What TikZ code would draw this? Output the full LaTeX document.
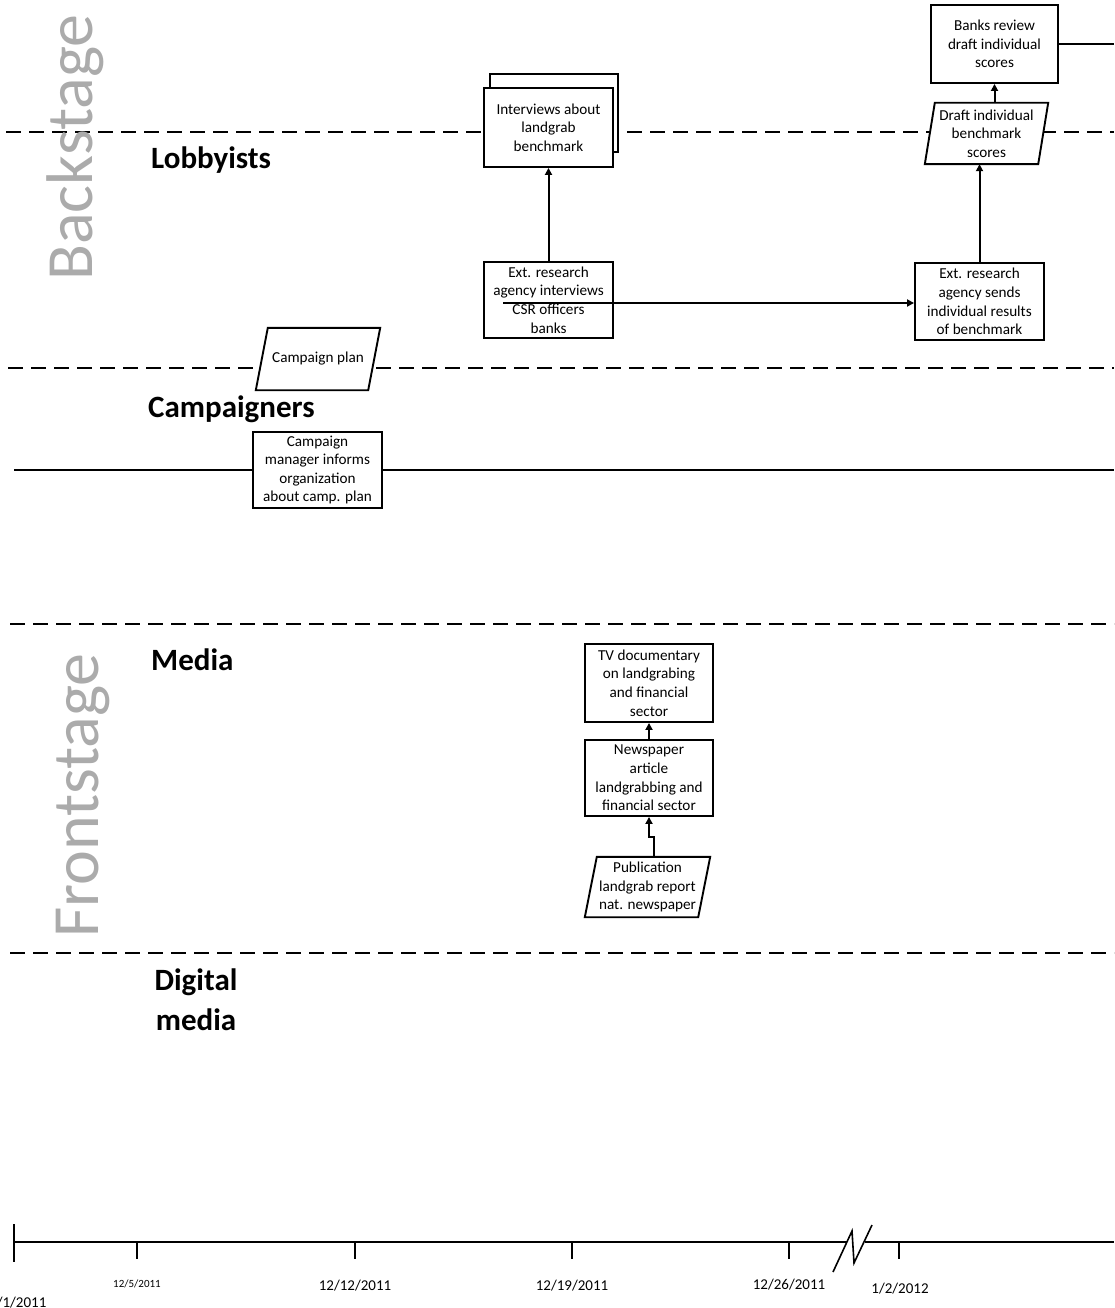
\documentclass[tikz,border=0pt]{standalone}
\usepackage{fontspec}
\setmainfont{Carlito}
\usetikzlibrary{arrows.meta,calc}

\pgfdeclarelayer{lanes}
\pgfdeclarelayer{shapes}
\pgfsetlayers{lanes,shapes,main}

\newcommand\boxfont{\fontsize{15.2}{18.6}\selectfont}
\newcommand\lanefont{\fontsize{31}{40}\selectfont\bfseries}
\newcommand\stagefont{\fontsize{66}{70}\selectfont}
\newcommand\datefont{\fontsize{15}{18}\selectfont}
\newcommand\smalldatefont{\fontsize{11}{13}\selectfont}

\tikzset{
  box/.style={draw, line width=1.9pt, fill=white, minimum width=128, minimum height=77,
    inner sep=0.5pt, align=center, font=\boxfont},
  slanted/.style={inner sep=0.5pt, align=center, font=\boxfont},
  flow/.style={line width=2pt, -{Triangle[length=7pt,width=7pt]}},
  plainline/.style={line width=2pt},
  lane/.style={line width=1.9pt, dash pattern=on 15pt off 8pt},
  lanelabel/.style={font=\lanefont, anchor=base west, inner sep=0},
  stagelabel/.style={font=\stagefont, text=black!33, rotate=90, anchor=base west, inner sep=0},
  tick/.style={line width=2pt},
  datelabel/.style={font=\datefont, anchor=base, inner sep=0}
}

% outline of a data (parallelogram) node: node name, half of the slant
\newcommand\slantoutline[2]{%
  \begin{pgfonlayer}{shapes}
    \draw[line width=1.9pt, fill=white]
      ($(#1.north west)+(#2,0)$) -- ($(#1.north east)+(#2,0)$) --
      ($(#1.south east)-(#2,0)$) -- ($(#1.south west)-(#2,0)$) -- cycle;
  \end{pgfonlayer}}

\begin{document}
\begin{tikzpicture}[x=1pt, y=-1pt]
\useasboundingbox (0,0) rectangle (1114,1308);

% swimlane separators
\begin{pgfonlayer}{lanes}
  \draw[lane] (6,132) -- (1114,132);
  \draw[lane] (8,368) -- (1114,368);
  \draw[lane] (10,624) -- (1114,624);
  \draw[lane] (10,953) -- (1114,953);
\end{pgfonlayer}

% stage labels
\node[stagelabel] (back) at (92,281) {Backstage};
\node[stagelabel] (front) at (98,938) {Frontstage};

% lane labels
\node[lanelabel] (lobby) at (151,168) {Lobbyists};
\node[lanelabel] (camp) at (148,417) {Campaigners};
\node[lanelabel] (media) at (151,670) {Media};
\node[font=\lanefont, align=center, anchor=base, inner sep=0] (digital) at (196,1030) {Digital\\media};

% Lobbyists
\node[box, minimum width=128, minimum height=78] (intvback) at (554,113) {};
\node[box, minimum width=129, minimum height=79] (intv) at (548.5,127.5) {Interviews about\\landgrab\\benchmark};
\node[box, minimum width=129, minimum height=76] (ext1) at (548.5,300) {Ext. research\\agency interviews\\CSR officers\\banks};
\node[box, minimum width=129, minimum height=77] (ext2) at (979.5,301.5) {Ext. research\\agency sends\\individual results\\of benchmark};
\node[slanted, minimum width=113, minimum height=61] (draft) at (986.5,133.5) {Draft individual\\benchmark\\scores};
\slantoutline{draft}{5}
\node[box, minimum width=127, minimum height=78] (banks) at (994.5,44) {Banks review\\draft individual\\scores};

% Campaigners
\node[slanted, minimum width=112, minimum height=62] (plan) at (318,359) {Campaign plan};
\slantoutline{plan}{6}
\node[box, minimum width=129, minimum height=76] (mgr) at (317.5,470) {Campaign\\manager informs\\organization\\about camp. plan};

% Media
\node[box, minimum width=128, minimum height=78] (tv) at (649,683) {TV documentary\\on landgrabing\\and financial\\sector};
\node[box, minimum width=128, minimum height=76] (news) at (649,778) {Newspaper\\article\\landgrabbing and\\financial sector};
\node[slanted, minimum width=113, minimum height=60] (pub) at (647.5,887) {Publication\\landgrab report\\nat. newspaper};
\slantoutline{pub}{6}

% connectors
\coordinate (hstart) at (503,303);
\coordinate (bankout) at (1114,44);
\coordinate (laneL) at (14,470);
\coordinate (laneR) at (1114,470);
\draw[flow] (ext1.north) -- (intv.south);
\draw[flow] (hstart) -- (hstart -| ext2.west);
\draw[flow] (ext2.north) -- (ext2.north |- draft.south);
\draw[flow] (draft.north -| banks.south) -- (banks.south);
\draw[plainline] (banks.east) -- (bankout);
\draw[plainline] (laneL) -- (mgr.west);
\draw[plainline] (mgr.east) -- (laneR);
\draw[flow] (news.north) -- (tv.south);
\draw[flow] ($(pub.north)+(6,0)$) -- ++(0,-20) -| (news.south);

% time axis
\coordinate (t0) at (14,1242);
\coordinate (tb1) at (847,1242);
\coordinate (tb2) at (865,1242);
\coordinate (tend) at (1114,1242);
\draw[tick] (t0) -- (tb1);
\draw[tick] (tb2) -- (tend);
\draw[tick] (14,1224) -- (14,1262);
\foreach \x in {137,355,572,789,899} \draw[tick] (\x,1242) -- (\x,1259);
\draw[line width=1.6pt] (833,1272) -- (852,1231) -- (854,1263) -- (872,1225);

\node[datelabel] (d1) at (14,1307) {12/1/2011};
\node[datelabel, font=\smalldatefont] (d5) at (137,1287) {12/5/2011};
\node[datelabel] (d12) at (355,1290) {12/12/2011};
\node[datelabel] (d19) at (572,1290) {12/19/2011};
\node[datelabel] (d26) at (789,1289) {12/26/2011};
\node[datelabel] (d2) at (900,1293) {1/2/2012};
\end{tikzpicture}
\end{document}
